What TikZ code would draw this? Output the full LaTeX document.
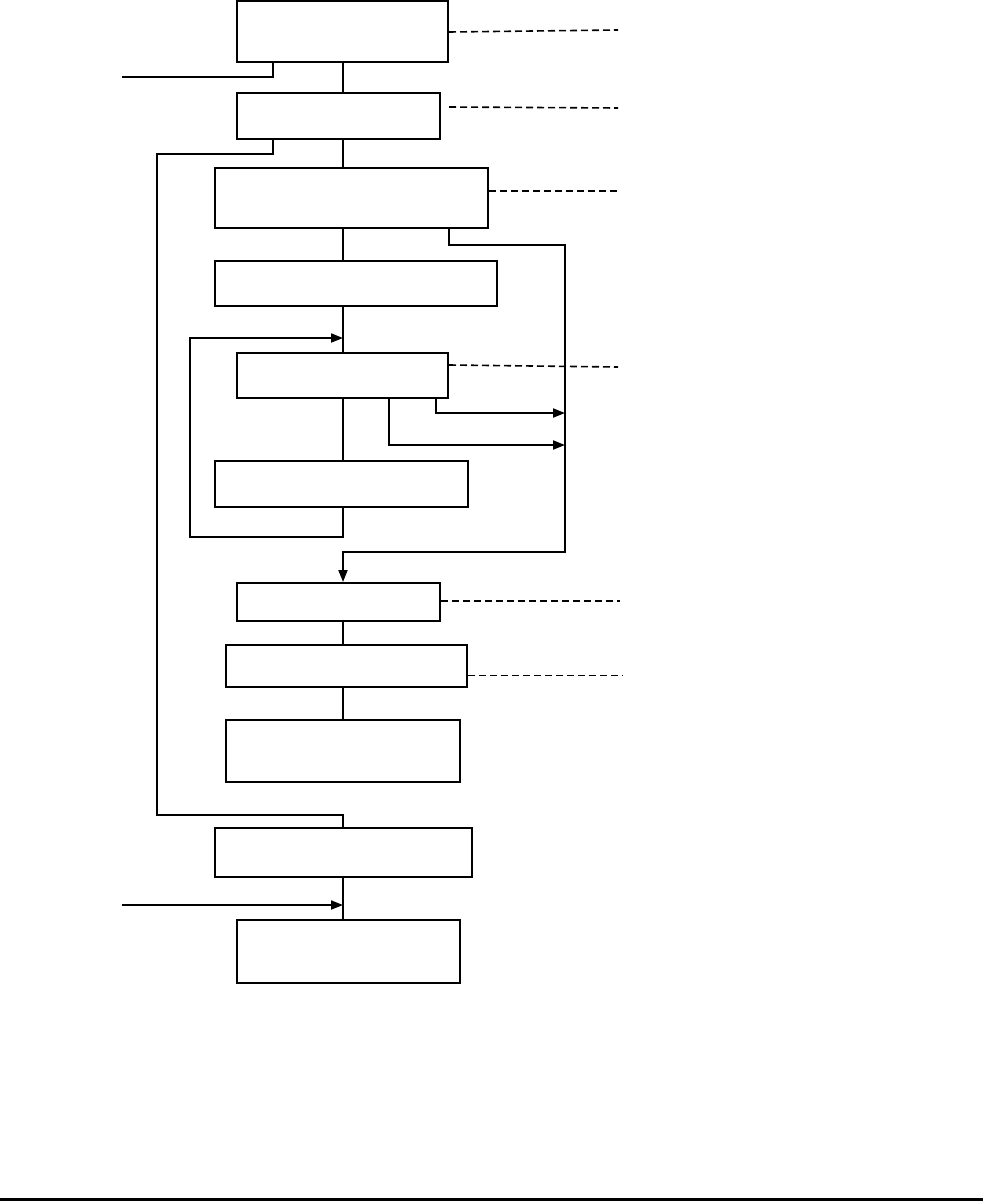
\documentclass[tikz,border=0pt]{standalone}
\usetikzlibrary{arrows.meta}
\begin{document}
\begin{tikzpicture}[x=1pt,y=-1pt,
  box/.style={draw,line width=2pt,rectangle,inner sep=0pt,fill=white},
  conn/.style={line width=1.8pt},
  arr/.style={line width=1.8pt,-{Triangle[length=12pt,width=9pt]}},
  dsh/.style={line width=1.6pt,dash pattern=on 7pt off 4pt},
  dshthin/.style={line width=1pt,dash pattern=on 7pt off 4pt}]
\useasboundingbox (0,0) rectangle (985,1202);
\coordinate (sp) at (343,0);
\node[box,minimum width=211,minimum height=61] (b1) at (342.5,31.5) {};
\node[box,minimum width=203,minimum height=46] (b2) at (338.5,116) {};
\node[box,minimum width=273,minimum height=60] (b3) at (351.5,198) {};
\node[box,minimum width=282,minimum height=45] (b4) at (356,283.5) {};
\node[box,minimum width=211,minimum height=45] (b5) at (342.5,375.5) {};
\node[box,minimum width=253,minimum height=46] (b6) at (341.5,484) {};
\node[box,minimum width=203,minimum height=38] (b7) at (338.5,602) {};
\node[box,minimum width=241,minimum height=42] (b8) at (346.5,666) {};
\node[box,minimum width=234,minimum height=62] (b9) at (343,751) {};
\node[box,minimum width=257,minimum height=49] (b10) at (343.5,852.5) {};
\node[box,minimum width=223,minimum height=63] (b11) at (348.5,951.5) {};
% spine
\draw[conn] (b1.south -| sp) -- (b2.north -| sp);
\draw[conn] (b2.south -| sp) -- (b3.north -| sp);
\draw[conn] (b3.south -| sp) -- (b4.north -| sp);
\draw[conn] (b4.south -| sp) -- (b5.north -| sp);
\draw[conn] (b5.south -| sp) -- (b6.north -| sp);
\draw[conn] (b7.south -| sp) -- (b8.north -| sp);
\draw[conn] (b8.south -| sp) -- (b9.north -| sp);
\draw[conn] (b10.south -| sp) -- (b11.north -| sp);
% dashed annotations
\coordinate (d1) at (618,30);
\coordinate (d2) at (618,108);
\coordinate (d3) at (620,191);
\coordinate (d5) at (618,367);
\coordinate (d7) at (620,601);
\coordinate (d8) at (623,675);
\draw[dsh] (b1.east |- 0,32) -- (d1);
\draw[dsh] ([xshift=8pt]b2.east |- 0,107) -- (d2);
\draw[dsh] (b3.east |- d3) -- (d3);
\draw[dsh] (b5.east |- 0,365) -- (d5);
\draw[dsh] (b7.east |- d7) -- (d7);
\draw[dshthin] (b8.east |- d8) -- (d8);
% left side lines
\coordinate (in1) at (122,77);
\draw[conn] (b1.south -| 273,0) |- (in1);
\draw[conn] (b2.south -| 273,0) -- (273,154) -- (157,154) -- (157,815) -- (343,815) -- (b10.north -| sp);
\coordinate (in2) at (122,905);
\coordinate (j2) at (343,905);
\draw[arr] (in2) -- (j2);
% loop
\coordinate (j1) at (343,338);
\draw[arr] (b6.south -| sp) -- (343,537) -- (190,537) -- (190,338) -- (j1);
% right bus
\draw[arr] (b3.south -| 449,0) -- (449,245) -- (565,245) -- (565,552) -- (343,552) -- (b7.north -| sp);
\coordinate (r1) at (565,413);
\coordinate (r2) at (565,445);
\draw[arr] (b5.south -| 436,0) |- (r1);
\draw[arr] (b5.south -| 389,0) |- (r2);
% bottom rule
\draw[line width=3pt] (0,1199.5) -- (983,1199.5);
\end{tikzpicture}
\end{document}
